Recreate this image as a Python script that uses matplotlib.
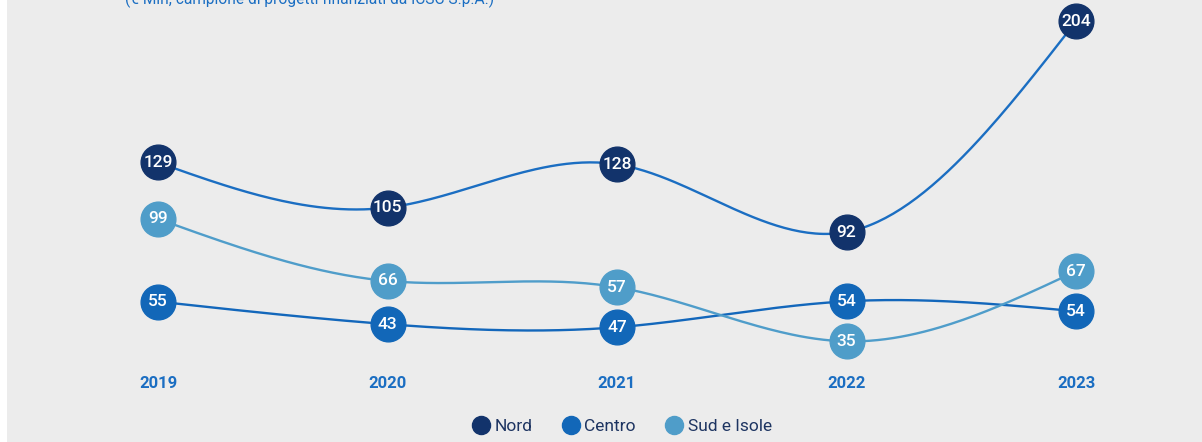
import numpy as np
import matplotlib
matplotlib.use("Agg")
import matplotlib.pyplot as plt
from matplotlib.transforms import blended_transform_factory
from matplotlib.lines import Line2D
from matplotlib.patches import Rectangle

years = ["2019", "2020", "2021", "2022", "2023"]
nord = [129, 105, 128, 92, 204]
centro = [55, 43, 47, 54, 54]
sud = [99, 66, 57, 35, 67]
series_names = ["Nord", "Centro", "Sud e Isole"]
subtitle = "(€ Mln, campione di progetti finanziati da ICSC S.p.A.)"

plt.rcParams['font.family'] = ['Roboto', 'DejaVu Sans']

W, H = 1202, 442
fig = plt.figure(figsize=(W / 100, H / 100), dpi=100)
fig.patch.set_facecolor("#ececec")
fig.patches.append(Rectangle((0, 0), 7 / W, 1, transform=fig.transFigure,
                             facecolor="white", edgecolor="none", zorder=0))

ax = fig.add_axes([0, 0, 1, 1])
ax.set_facecolor("none")
spacing = 229.5
x0 = 158
ax.set_xlim(-x0 / spacing, (W - x0) / spacing)
slope = 1.88  # pixels per unit
base = 405
ax.set_ylim((base - H) / slope, base / slope)
ax.axis("off")


def natural_spline(x, y, n=60):
    x = np.asarray(x, float)
    y = np.asarray(y, float)
    m = len(x)
    h = np.diff(x)
    A = np.zeros((m, m))
    r = np.zeros(m)
    A[0, 0] = A[-1, -1] = 1
    for i in range(1, m - 1):
        A[i, i - 1] = h[i - 1]
        A[i, i] = 2 * (h[i - 1] + h[i])
        A[i, i + 1] = h[i]
        r[i] = 6 * ((y[i + 1] - y[i]) / h[i] - (y[i] - y[i - 1]) / h[i - 1])
    M = np.linalg.solve(A, r)
    xs, ys = [], []
    for i in range(m - 1):
        t = np.linspace(x[i], x[i + 1], n)
        a = (x[i + 1] - t) / h[i]
        b = (t - x[i]) / h[i]
        s = (a * y[i] + b * y[i + 1]
             + ((a ** 3 - a) * M[i] + (b ** 3 - b) * M[i + 1]) * h[i] ** 2 / 6)
        xs.append(t)
        ys.append(s)
    return np.concatenate(xs), np.concatenate(ys)


xi = np.arange(len(years))
data = [nord, centro, sud]
# label-collision avoidance: push markers apart at same year (like the source layout)
disp = [np.array(v, float) for v in data]
min_gap = 40 / slope
for j in range(len(years)):
    for _ in range(5):
        for a in range(len(disp)):
            for b in range(a + 1, len(disp)):
                d = disp[b][j] - disp[a][j]
                if abs(d) < min_gap:
                    c = (disp[a][j] + disp[b][j]) / 2
                    sgn = 1 if d >= 0 else -1
                    disp[a][j] = c - sgn * min_gap / 2
                    disp[b][j] = c + sgn * min_gap / 2

line_colors = ["#1b6ec2", "#1367bb", "#4f9dca"]
marker_colors = ["#12336b", "#1267b8", "#4f9dc9"]

for dv, lc in zip(disp, line_colors):
    sx, sy = natural_spline(xi, dv)
    ax.plot(sx, sy, color=lc, lw=1.7, zorder=2, solid_capstyle="round")
for vals, dv, mc in zip(data, disp, marker_colors):
    ax.plot(xi, dv, "o", ms=25, color=mc, mec=mc, zorder=3, lw=0)
    for x, v, yv in zip(xi, vals, dv):
        ax.text(x, yv, str(v), color="white", fontsize=12.5, ha="center",
                va="center", zorder=4, fontweight="medium")

trans = blended_transform_factory(ax.transData, fig.transFigure)
for x, yl in zip(xi, years):
    ax.text(x, 1 - 384 / H, yl, transform=trans, color="#1b6ec2",
            fontsize=12, fontweight="bold", ha="center", va="center")

fig.text(125 / W, 1 - 4 / H, subtitle, color="#1b6ec2", fontsize=11.2,
         ha="left", va="baseline")

handles = [Line2D([], [], marker="o", ls="", ms=13, color=c, mec=c)
           for c in marker_colors]
leg = fig.legend(handles, series_names, loc="center", ncol=3,
                 bbox_to_anchor=(622 / W, 1 - 426 / H), frameon=False,
                 fontsize=12.5, handletextpad=0.3, columnspacing=1.7,
                 handlelength=1.0)
for t in leg.get_texts():
    t.set_color("#1d3461")

fig.savefig("out.png", dpi=100, facecolor=fig.get_facecolor())
